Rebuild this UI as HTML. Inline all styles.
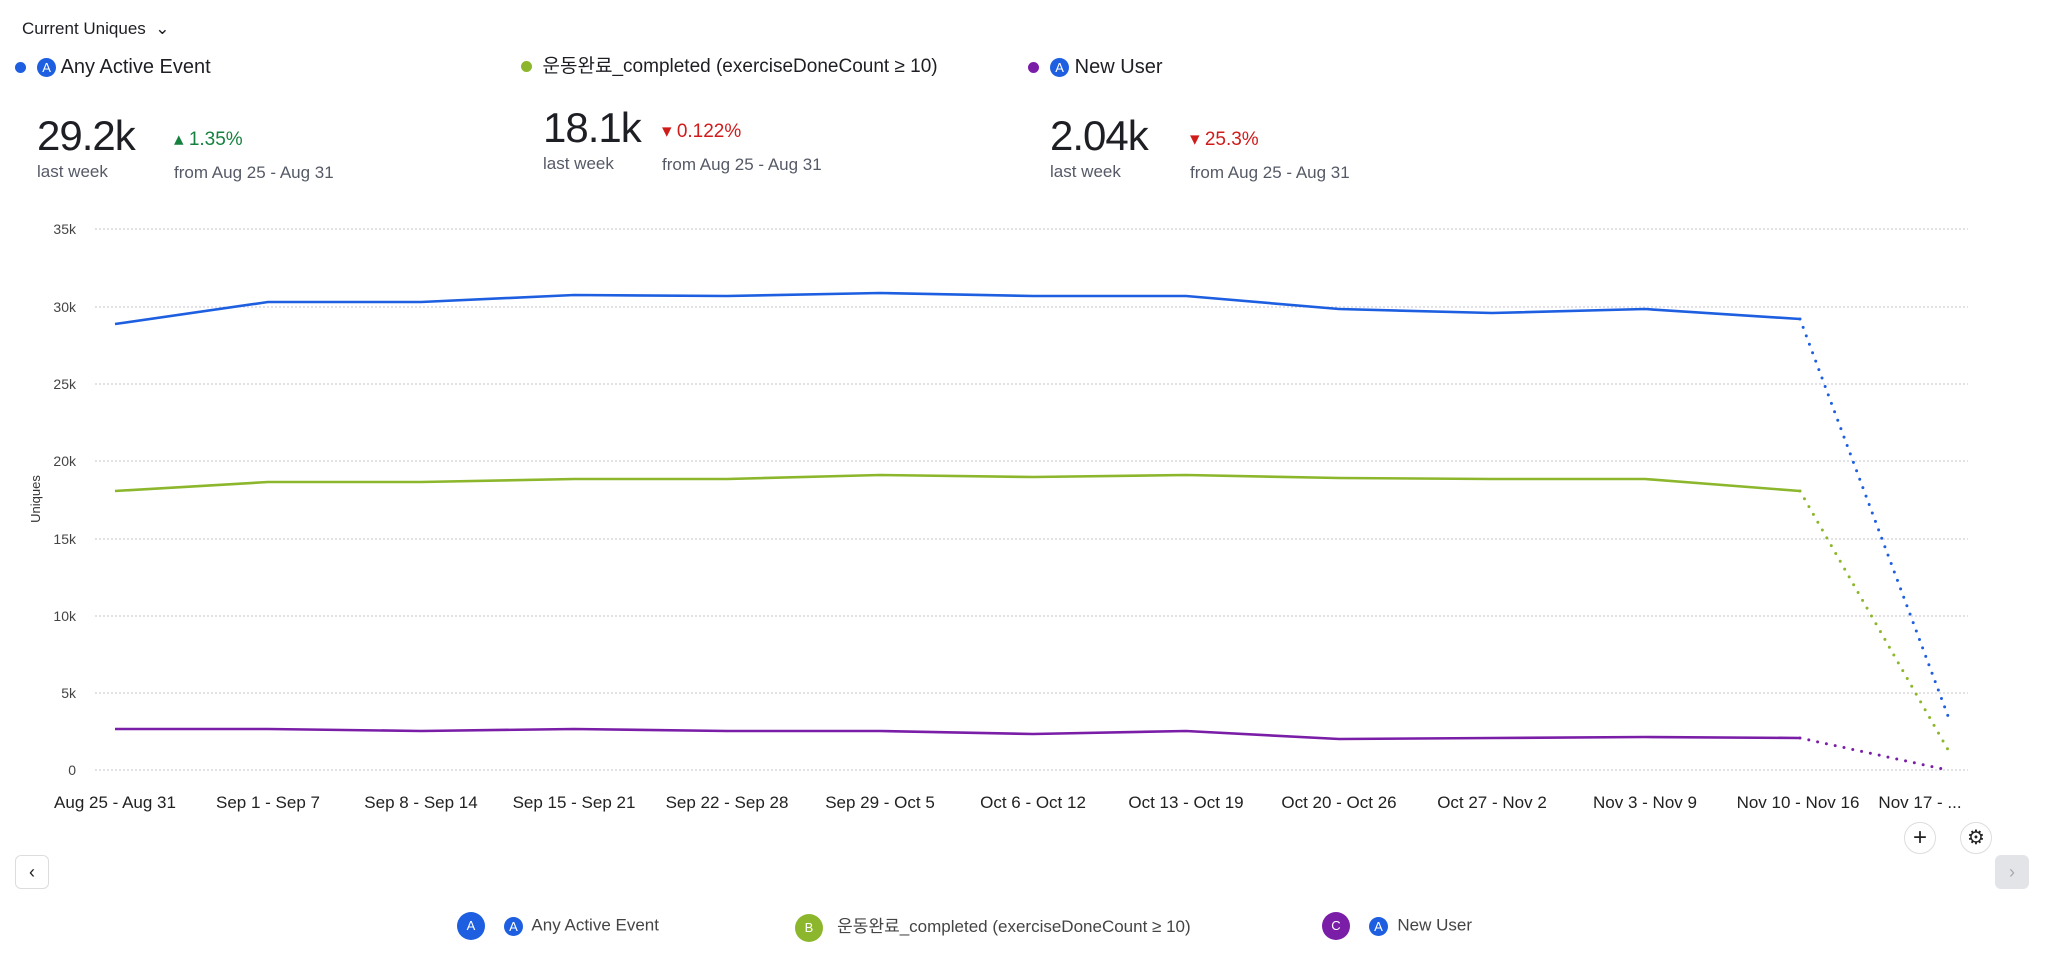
<!DOCTYPE html>
<html><head><meta charset="utf-8"><style>
body{margin:0;width:2048px;height:960px;background:#fff;font-family:"Liberation Sans","Noto Sans CJK KR",sans-serif;color:#1e1f24;position:relative;overflow:hidden}
.a{position:absolute;white-space:nowrap}
.dot{display:inline-block;width:11px;height:11px;border-radius:50%;vertical-align:middle}
.ic{display:inline-block;width:19px;height:19px;border-radius:50%;background:#1d5fe0;color:#fff;font-size:13px;line-height:19px;text-align:center;vertical-align:middle}
.big{font-size:42px;letter-spacing:-1px}
.sub{font-size:17px;color:#555a66}
.chg{font-size:19px}
.btn{position:absolute;border:1.5px solid #ddd;border-radius:50%;background:#fff;text-align:center;color:#222}
</style></head><body>
<div class="a" style="left:22px;top:19px;font-size:17px">Current Uniques &nbsp;⌄</div>
<div class="a" style="left:15px;top:56px;font-size:20px"><span class="dot" style="background:#1d5fe0"></span>&nbsp;&nbsp;<span class="ic">A</span> Any Active Event</div>
<div class="a" style="left:521px;top:51px;font-size:19px"><span class="dot" style="background:#8cb72c"></span>&nbsp; 운동완료_completed (exerciseDoneCount ≥ 10)</div>
<div class="a" style="left:1028px;top:56px;font-size:20px"><span class="dot" style="background:#7a1ea8"></span>&nbsp;&nbsp;<span class="ic">A</span> New User</div>

<div class="a big" style="left:37px;top:112px">29.2k</div>
<div class="a sub" style="left:37px;top:162px">last week</div>
<div class="a chg" style="left:174px;top:128px;color:#16813f">▴ 1.35%</div>
<div class="a sub" style="left:174px;top:163px">from Aug 25 - Aug 31</div>

<div class="a big" style="left:543px;top:104px">18.1k</div>
<div class="a sub" style="left:543px;top:154px">last week</div>
<div class="a chg" style="left:662px;top:120px;color:#d01b1b">▾ 0.122%</div>
<div class="a sub" style="left:662px;top:155px">from Aug 25 - Aug 31</div>

<div class="a big" style="left:1050px;top:112px">2.04k</div>
<div class="a sub" style="left:1050px;top:162px">last week</div>
<div class="a chg" style="left:1190px;top:128px;color:#d01b1b">▾ 25.3%</div>
<div class="a sub" style="left:1190px;top:163px">from Aug 25 - Aug 31</div>

<svg class="a" style="left:0;top:0" width="2048" height="960">
<g stroke="#c4c6cc" stroke-dasharray="2 2" stroke-width="1">
<line x1="95" x2="1968" y1="229" y2="229"/><line x1="95" x2="1968" y1="307" y2="307"/><line x1="95" x2="1968" y1="384" y2="384"/><line x1="95" x2="1968" y1="461" y2="461"/><line x1="95" x2="1968" y1="539" y2="539"/><line x1="95" x2="1968" y1="616" y2="616"/><line x1="95" x2="1968" y1="693" y2="693"/><line x1="95" x2="1968" y1="770" y2="770"/>
</g>
<g font-size="14" fill="#444" text-anchor="end" font-family="Liberation Sans">
<text x="76" y="234">35k</text><text x="76" y="312">30k</text><text x="76" y="389">25k</text><text x="76" y="466">20k</text><text x="76" y="544">15k</text><text x="76" y="621">10k</text><text x="76" y="698">5k</text><text x="76" y="775">0</text>
</g>
<text x="40" y="499" font-size="13" fill="#333" text-anchor="middle" transform="rotate(-90 40 499)" font-family="Liberation Sans">Uniques</text>
<g fill="none" stroke-width="2.6">
<polyline stroke="#1d5fe0" points="115,324 268,302 421,302 574,295 727,296 880,293 1033,296 1186,296 1339,309 1492,313 1645,309 1800,319"/>
<polyline stroke="#8cb72c" points="115,491 268,482 421,482 574,479 727,479 880,475 1033,477 1186,475 1339,478 1492,479 1645,479 1800,491"/>
<polyline stroke="#7a1ea8" points="115,729 268,729 421,731 574,729 727,731 880,731 1033,734 1186,731 1339,739 1492,738 1645,737 1800,738"/>
</g>
<g fill="none" stroke-width="3" stroke-dasharray="0 9" stroke-linecap="round">
<line stroke="#1d5fe0" x1="1800" y1="319" x2="1948" y2="716"/>
<line stroke="#8cb72c" x1="1800" y1="491" x2="1951" y2="755"/>
<line stroke="#7a1ea8" x1="1800" y1="738" x2="1943" y2="769"/>
</g>
<g font-size="17" fill="#222" text-anchor="middle" font-family="Liberation Sans">
<text x="115" y="808">Aug 25 - Aug 31</text><text x="268" y="808">Sep 1 - Sep 7</text><text x="421" y="808">Sep 8 - Sep 14</text><text x="574" y="808">Sep 15 - Sep 21</text><text x="727" y="808">Sep 22 - Sep 28</text><text x="880" y="808">Sep 29 - Oct 5</text><text x="1033" y="808">Oct 6 - Oct 12</text><text x="1186" y="808">Oct 13 - Oct 19</text><text x="1339" y="808">Oct 20 - Oct 26</text><text x="1492" y="808">Oct 27 - Nov 2</text><text x="1645" y="808">Nov 3 - Nov 9</text><text x="1798" y="808">Nov 10 - Nov 16</text><text x="1920" y="808">Nov 17 - ...</text>
</g>
</svg>
<div class="btn" style="left:1904px;top:822px;width:30px;height:30px;line-height:30px;font-size:24px">+</div>
<div class="btn" style="left:1960px;top:822px;width:30px;height:30px;line-height:30px;font-size:20px">⚙</div>
<div class="a" style="left:15px;top:855px;width:32px;height:32px;border:1.5px solid #ddd;border-radius:6px;text-align:center;line-height:32px;font-size:18px">‹</div>
<div class="a" style="left:1995px;top:855px;width:34px;height:34px;background:#e3e4e8;border-radius:6px;text-align:center;line-height:34px;font-size:18px;color:#aaa">›</div>

<div class="a" style="left:457px;top:912px;font-size:17px;color:#444"><span class="dot" style="width:28px;height:28px;background:#1d5fe0;color:#fff;font-size:13px;line-height:28px;text-align:center">A</span>&nbsp;&nbsp;&nbsp; <span class="ic">A</span>&nbsp; Any Active Event</div>
<div class="a" style="left:795px;top:912px;font-size:17px;color:#444"><span class="dot" style="width:28px;height:28px;background:#8cb72c;color:#fff;font-size:13px;line-height:28px;text-align:center">B</span>&nbsp;&nbsp; 운동완료_completed (exerciseDoneCount ≥ 10)</div>
<div class="a" style="left:1322px;top:912px;font-size:17px;color:#444"><span class="dot" style="width:28px;height:28px;background:#7a1ea8;color:#fff;font-size:13px;line-height:28px;text-align:center">C</span>&nbsp;&nbsp;&nbsp; <span class="ic">A</span>&nbsp; New User</div>
</body></html>
